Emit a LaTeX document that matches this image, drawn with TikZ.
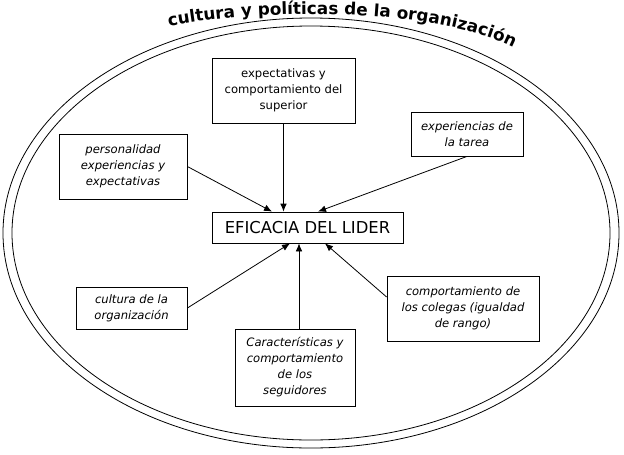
\documentclass[tikz,border=0pt]{standalone}
\usepackage{fontspec}
\setmainfont{DejaVu Sans}
\usetikzlibrary{positioning, calc, arrows.meta, decorations.text}
\tikzset {
    >={Latex[length=6pt, width=5pt]},
    caja/.style={draw, align=center, inner sep=2pt, font=\fontsize{8.7}{12}\selectfont},
    cajait/.style={caja, font=\fontsize{8.7}{12}\selectfont\itshape},
    borde/.style={line width=0.6pt}
}

\begin{document}
\begin{tikzpicture}[
  x=0.75pt, y=-0.75pt,
  every path/.style={line width=0.6pt}
  ]
\useasboundingbox (0,0) rectangle (624,454);

% the organization
\draw[borde] (311,233) ellipse [x radius=308, y radius=215];
\draw[borde] (311,233) ellipse [x radius=299, y radius=207];
\path[decorate, decoration={text along path, text align=center,
  text={|\fontsize{12.6}{14}\selectfont\bfseries|cultura y políticas de la organización}}]
  (170,26) .. controls (260,9) and (430,6) .. (512,47);

\node[caja, minimum width=143.25pt, minimum height=23.25pt,
  font=\fontsize{12.3}{14}\selectfont] (lider) at (307.5,227.5) {EFICACIA DEL LIDER};

\node[caja, minimum width=107.25pt, minimum height=48.75pt] (sup) at (283.5,90.5)
  {expectativas y\\comportamiento del\\superior};
\node[cajait, minimum width=96pt, minimum height=48.75pt] (pers) at (123,166.5)
  {personalidad\\experiencias y\\expectativas};
\node[cajait, minimum width=84pt, minimum height=33pt] (tarea) at (467,134)
  {experiencias de\\la tarea};
\node[cajait, minimum width=83.25pt, minimum height=31.5pt] (cult) at (131.5,308)
  {cultura de la\\organización};
\node[cajait, minimum width=90pt, minimum height=57.75pt] (seg) at (295,367.5)
  {Características y\\comportamiento\\de los\\seguidores};
\node[cajait, minimum width=114pt, minimum height=48.75pt] (col) at (463,308.5)
  {comportamiento de\\los colegas (igualdad\\de rango)};

% influences
\draw[->] (sup.south) -- (sup.south |- lider.north);
\draw[->] (pers.east) -- ($(lider.north)+(-35.5,0)$);
\draw[->] (tarea.south) -- ($(lider.north)+(10.5,0)$);
\draw[->] (cult.east) -- ($(lider.south)+(-17.5,0)$);
\draw[->] ($(seg.north)+(4,0)$) -- ($(lider.south)+(-8.5,0)$);
\draw[->] ($(col.west)+(0,-11.5)$) -- ($(lider.south)+(17.5,0)$);

\end{tikzpicture}
\end{document}
